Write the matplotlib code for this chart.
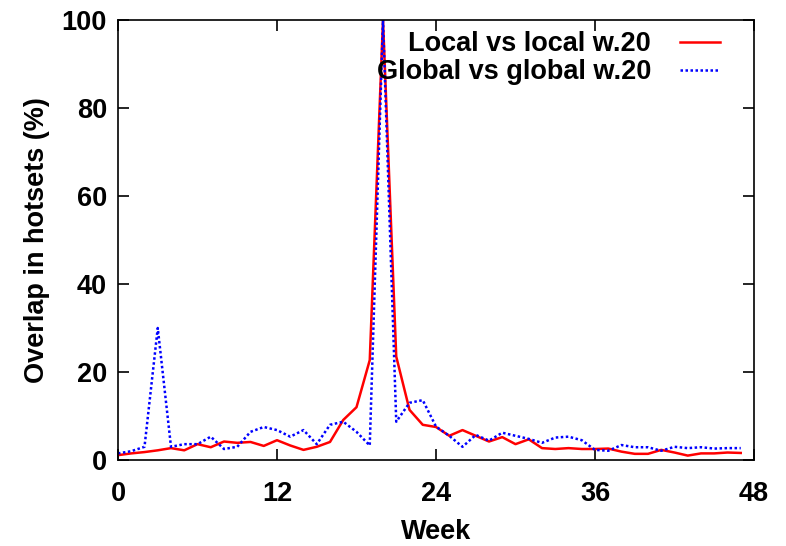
import matplotlib
matplotlib.use("Agg")
import matplotlib.pyplot as plt

OUTPUT_PATH = "out.png"

weeks = list(range(48))

# Overlap of each week's hotset with week 20's hotset (%)
local_vs_local = [
    1.1, 1.5, 1.8, 2.2, 2.7, 2.2, 3.6, 2.9, 4.2, 3.9,
    4.1, 3.2, 4.5, 3.3, 2.3, 3.0, 4.1, 9.1, 12.0, 22.7,
    100.0, 23.5, 11.4, 8.0, 7.5, 5.5, 6.8, 5.5, 4.2, 5.2,
    3.6, 4.7, 2.7, 2.5, 2.7, 2.5, 2.5, 2.6, 1.9, 1.4,
    1.4, 2.3, 1.7, 1.0, 1.5, 1.5, 1.7, 1.6,
]
global_vs_global = [
    1.5, 2.0, 3.0, 30.0, 3.0, 3.6, 3.6, 5.3, 2.5, 3.0,
    6.4, 7.5, 6.8, 5.3, 6.8, 3.6, 8.0, 8.7, 6.4, 3.3,
    100.0, 8.7, 13.0, 13.6, 7.6, 5.5, 3.0, 5.7, 4.4, 6.2,
    5.5, 4.8, 3.9, 5.1, 5.3, 4.5, 2.3, 2.1, 3.4, 2.9,
    2.9, 2.1, 3.0, 2.7, 2.9, 2.6, 2.7, 2.7,
]

x_ticks = [0, 12, 24, 36, 48]
y_ticks = [0, 20, 40, 60, 80, 100]


def main():
    plt.rcParams["font.family"] = ["Liberation Sans", "DejaVu Sans"]
    plt.rcParams["font.size"] = 19.5
    plt.rcParams["font.weight"] = "bold"
    plt.rcParams["axes.labelweight"] = "bold"

    fig = plt.figure(figsize=(7.86, 5.46), dpi=100)
    ax = fig.add_axes([118 / 786, 1 - 460 / 546, (754 - 118) / 786, (460 - 20) / 546])

    ax.plot(weeks, local_vs_local, color="#ff0000", linewidth=1.8,
            label="Local vs local w.20")
    ax.plot(weeks, global_vs_global, color="#0000ff", linewidth=1.8,
            linestyle=(0, (1, 1)), label="Global vs global w.20")

    ax.set_xlim(0, 48)
    ax.set_ylim(0, 100)
    ax.set_xticks(x_ticks)
    ax.set_yticks(y_ticks)
    ax.tick_params(direction="in", length=8, width=1.2, top=True, right=True)
    ax.tick_params(axis="x", pad=15)
    ax.tick_params(axis="y", pad=8)
    for s in ax.spines.values():
        s.set_linewidth(1.2)

    ax.set_xlabel("Week", labelpad=9)
    ax.set_ylabel("Overlap in hotsets (%)", labelpad=8)

    ax.legend(loc="upper right", frameon=False, markerfirst=False,
              handlelength=1.5, handletextpad=1.05, labelspacing=0.08,
              borderaxespad=0.0, borderpad=0.0,
              bbox_to_anchor=(0.947, 0.975))

    fig.savefig(OUTPUT_PATH, dpi=100)


if __name__ == "__main__":
    main()
